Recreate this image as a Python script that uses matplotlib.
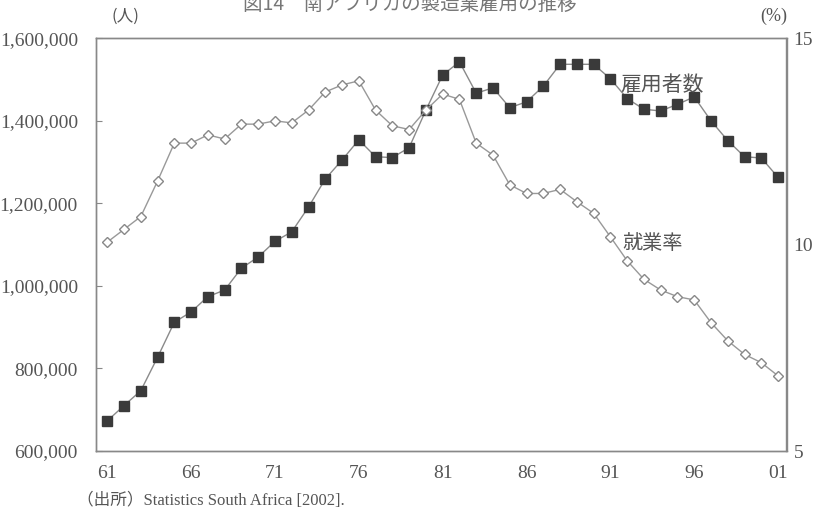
import matplotlib
matplotlib.use("Agg")
import matplotlib.pyplot as plt
from matplotlib.ticker import FuncFormatter

years = list(range(1961, 2002))
employment = [673000, 710000, 746000, 827000, 912000, 937000, 974000, 990000, 1043000, 1070000,
              1108000, 1131000, 1191000, 1259000, 1305000, 1354000, 1313000, 1311000, 1335000, 1426000,
              1511000, 1543000, 1467000, 1480000, 1432000, 1446000, 1484000, 1537000, 1537000, 1537000,
              1502000, 1454000, 1428000, 1424000, 1440000, 1458000, 1400000, 1352000, 1313000, 1310000,
              1263000]
rate = [10.06, 10.37, 10.68, 11.54, 12.46, 12.46, 12.66, 12.56, 12.92, 12.92,
        13.00, 12.95, 13.26, 13.70, 13.87, 13.97, 13.26, 12.88, 12.79, 13.26,
        13.65, 13.52, 12.46, 12.17, 11.45, 11.24, 11.24, 11.34, 11.04, 10.76,
        10.19, 9.61, 9.16, 8.90, 8.74, 8.66, 8.11, 7.67, 7.34, 7.14,
        6.82]
xtick_years = [1961, 1966, 1971, 1976, 1981, 1986, 1991, 1996, 2001]
xtick_labels = ["61", "66", "71", "76", "81", "86", "91", "96", "01"]
left_ticks = [600000, 800000, 1000000, 1200000, 1400000, 1600000]
right_ticks = [5, 10, 15]

title = "図14　南アフリカの製造業雇用の推移"
label_emp = "雇用者数"
label_rate = "就業率"
source = "（出所）Statistics South Africa [2002]."

JP = ["Noto Sans CJK JP", "DejaVu Sans"]
SERIF = ["Liberation Serif", "DejaVu Serif"]
MIX = ["Liberation Serif", "Noto Sans CJK JP", "DejaVu Sans"]
TXT = "#555555"
AX = "#888888"

fig = plt.figure(figsize=(8.14, 5.17), dpi=100)
ax = fig.add_axes([96/814, 1-451/517, (786.5-96)/814, (451-38.3)/517])
ax2 = ax.twinx()

ax.plot(years, employment, color="#8a8a8a", lw=1.0, marker="s", ms=6.5,
        mfc="#3a3a3a", mec="#3a3a3a", zorder=3)
ax2.plot(years, rate, color="#999999", lw=1.0, marker="D", ms=5,
         mfc="white", mec="#888888", mew=1.0, zorder=3)

ax.set_xlim(1960.33, 2001.5)
ax.set_ylim(600000, 1600000)
ax2.set_ylim(5, 15)

ax.set_xticks(xtick_years)
ax.set_xticklabels(xtick_labels)
ax.set_yticks(left_ticks)
ax.yaxis.set_major_formatter(FuncFormatter(lambda v, p: f"{int(v):,}"))
ax2.set_yticks(right_ticks)

for a in (ax, ax2):
    for s in a.spines.values():
        s.set_color(AX)
        s.set_linewidth(1.0)
ax.tick_params(axis="x", length=0, pad=10, labelsize=14, labelcolor=TXT)
ax.tick_params(axis="y", direction="in", length=4, color=AX, pad=13, labelsize=14, labelcolor=TXT)
ax2.tick_params(axis="y", direction="in", length=0, color=AX, pad=5, labelsize=14, labelcolor=TXT)
for lab in ax.get_xticklabels() + ax.get_yticklabels() + ax2.get_yticklabels():
    lab.set_family(SERIF)

ax.text(1991.6, 1487000, label_emp, family=JP, fontsize=15, color=TXT, va="center", ha="left", zorder=5)
ax2.text(1991.7, 10.02, label_rate, family=JP, fontsize=14.5, color=TXT, va="center", ha="left", zorder=5)

fig.text(410/814, 1 - 4/517, title, family=JP, fontsize=14, color="#777777", ha="center", va="center")
fig.text(125/814, 1 - 16/517, "(人)", family=JP, fontsize=12, color=TXT, ha="center", va="center")
fig.text(774/814, 1 - 16/517, "(%)", family=SERIF, fontsize=13, color=TXT, ha="center", va="center")
fig.text(77/814, 1 - 501/517, source, family=MIX, fontsize=12, color=TXT, ha="left", va="center")

fig.savefig("out.png", dpi=100, facecolor="white")
